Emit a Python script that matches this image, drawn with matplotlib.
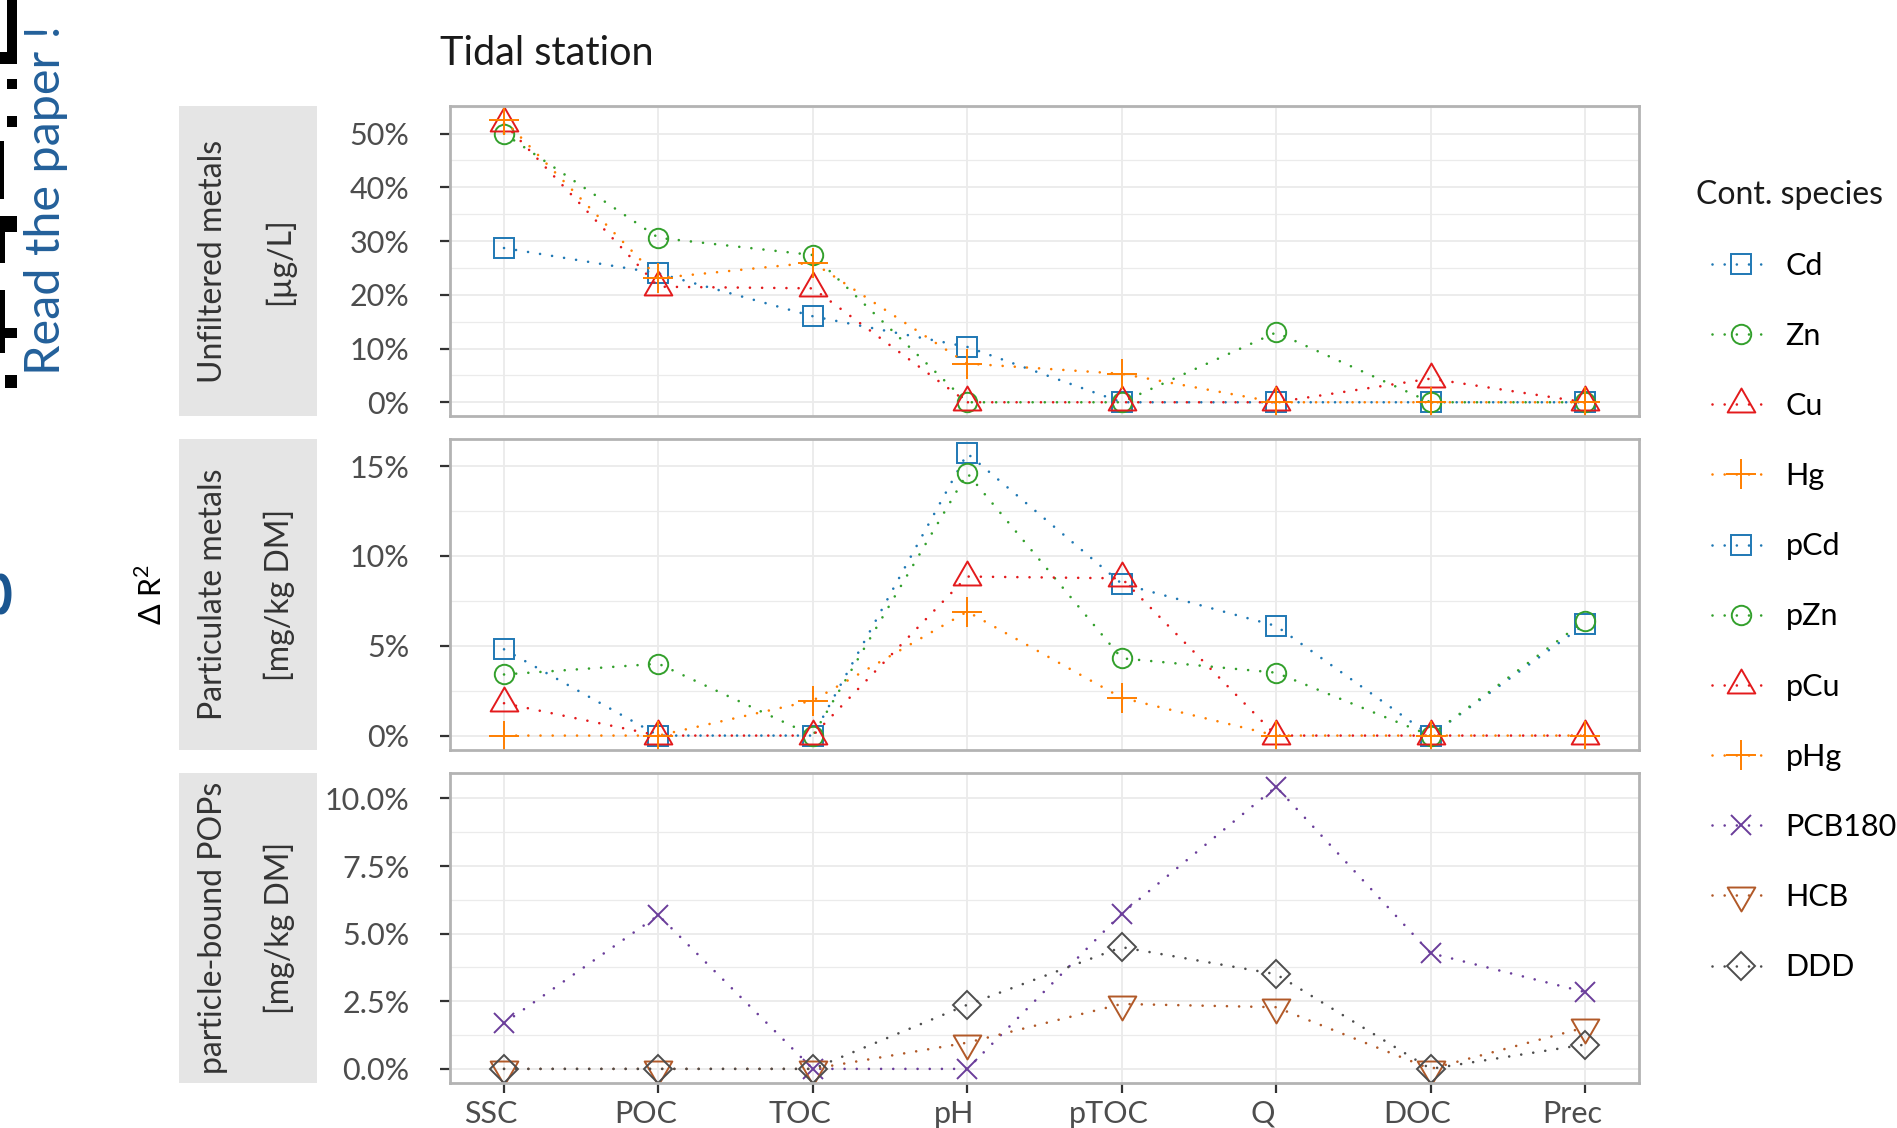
import numpy as np
import matplotlib
matplotlib.use('Agg')
import matplotlib.pyplot as plt
from matplotlib.path import Path
from matplotlib.lines import Line2D
from matplotlib.patches import Rectangle
from matplotlib.ticker import MultipleLocator, FuncFormatter
from matplotlib.transforms import ScaledTranslation

plt.rcParams['font.family'] = ['Lato', 'DejaVu Sans']
plt.rcParams['mathtext.fontset'] = 'custom'
plt.rcParams['mathtext.rm'] = 'Lato'

predictors = ['SSC', 'POC', 'TOC', 'pH', 'pTOC', 'Q', 'DOC', 'Prec']

# delta R2 (%) per predictor
# unfiltered metals [ug/L]
Cd = [28.7, 24.0, 16.0, 10.3, 0, 0, 0, 0]
Zn = [50.0, 30.6, 27.4, 0, 0, 13.0, 0, 0]
Cu = [51.9, 21.5, 21.2, 0, 0, 0, 4.4, 0]
Hg = [52.5, 23.1, 26.0, 7.2, 5.3, 0, 0, 0]
# particulate metals [mg/kg DM]
pCd = [4.8, 0, 0, 15.7, 8.45, 6.1, 0, 6.2]
pZn = [3.4, 4.0, 0, 14.6, 4.3, 3.5, 0, 6.4]
pCu = [1.8, 0, 0, 8.85, 8.75, 0, 0, 0]
pHg = [0, 0, 1.95, 6.9, 2.1, 0, 0, 0]
# particle-bound POPs [mg/kg DM]
PCB180 = [1.69, 5.68, 0, 0, 5.74, 10.43, 4.28, 2.84]
HCB = [0, 0, 0, 0.97, 2.4, 2.28, 0, 1.53]
DDD = [0, 0, 0, 2.37, 4.5, 3.5, 0, 0.9]

tri_up = Path([(0, 1), (-0.866, -0.5), (0.866, -0.5), (0, 1)], closed=True)
tri_dn = Path([(0, -1), (-0.866, 0.5), (0.866, 0.5), (0, -1)], closed=True)

# name: (color, marker, size)
style = {
    'Cd': ('#1F78B4', 's', 14), 'Zn': ('#33A02C', 'o', 14),
    'Cu': ('#E31A1C', tri_up, 23), 'Hg': ('#FF7F00', '+', 22),
    'pCd': ('#1F78B4', 's', 14), 'pZn': ('#33A02C', 'o', 14),
    'pCu': ('#E31A1C', tri_up, 23), 'pHg': ('#FF7F00', '+', 22),
    'PCB180': ('#6A3D9A', 'x', 14.5), 'HCB': ('#B15928', tri_dn, 23),
    'DDD': ('#4D4D4D', 'D', 14.5),
}

panels = [
    ('Unfiltered metals', '[µg/L]', {'Cd': Cd, 'Zn': Zn, 'Cu': Cu, 'Hg': Hg}, 10, '{:.0f}%'),
    ('Particulate metals', '[mg/kg DM]', {'pCd': pCd, 'pZn': pZn, 'pCu': pCu, 'pHg': pHg}, 5, '{:.0f}%'),
    ('particle-bound POPs', '[mg/kg DM]', {'PCB180': PCB180, 'HCB': HCB, 'DDD': DDD}, 2.5, '{:.1f}%'),
]

dots = (0, (0.01, 4.6))

fig, axes = plt.subplots(3, 1, figsize=(18.97, 11.28), dpi=100, sharex=True)
fig.subplots_adjust(left=0.2372, right=0.864, top=0.906, bottom=0.0399, hspace=0.074)

x = np.arange(len(predictors))
for ax, (lab1, lab2, series, step, fmt) in zip(axes, panels):
    allv = np.concatenate([np.asarray(v, float) for v in series.values()])
    lo, hi = allv.min(), allv.max()
    pad = 0.05 * (hi - lo)
    for name, vals in series.items():
        col, mk, ms = style[name]
        ax.plot(x, vals, color=col, lw=1.9, linestyle=dots, dash_capstyle='round',
                marker=mk, ms=ms, mfc='none', mec=col, mew=1.4)
    ax.set_ylim(lo - pad, hi + pad)
    ax.set_xlim(-0.35, len(predictors) - 0.65)
    ax.yaxis.set_major_locator(MultipleLocator(step))
    ax.yaxis.set_minor_locator(MultipleLocator(step / 2))
    ax.yaxis.set_major_formatter(FuncFormatter(lambda v, p, f=fmt: f.format(v)))
    ax.set_axisbelow(True)
    ax.grid(which='major', color='#EBEBEB', lw=1.3)
    ax.grid(which='minor', axis='y', color='#EBEBEB', lw=0.9)
    for sp in ax.spines.values():
        sp.set_color('#B3B3B3')
        sp.set_linewidth(2)
    ax.tick_params(axis='y', which='major', length=7, width=1.6, color='#333333',
                   labelsize=22, labelcolor='#4D4D4D', pad=22)
    ax.tick_params(axis='x', which='major', length=0)
    ax.tick_params(which='minor', length=0)
    # facet strip on the left
    ax.add_patch(Rectangle((-0.2279, 0), 0.116, 1, transform=ax.transAxes,
                           facecolor='#E5E5E5', edgecolor='none', clip_on=False))
    ax.text(-0.1990, 0.5, lab1, transform=ax.transAxes, rotation=90, ha='center',
            va='center', fontsize=23, color='#333333')
    ax.text(-0.1438, 0.5, lab2, transform=ax.transAxes, rotation=90, ha='center',
            va='center', fontsize=23, color='#333333')

axes[-1].set_xticks(x)
axes[-1].set_xticklabels(predictors)
axes[-1].tick_params(axis='x', length=7, width=1.6, color='#333333',
                     labelsize=22, labelcolor='#4D4D4D', pad=5)
shift = ScaledTranslation(-0.13, 0, fig.dpi_scale_trans)
for t in axes[-1].get_xticklabels():
    t.set_transform(t.get_transform() + shift)

fig.text(0.232, 0.9424, 'Tidal station', fontsize=28.5, color='#1A1A1A', va='baseline')
fig.text(0.0796, 0.4734, r'Δ R$^{2}$', rotation=90, fontsize=22, ha='center', va='center')

# legend
handles, labels = [], []
for name in ['Cd', 'Zn', 'Cu', 'Hg', 'pCd', 'pZn', 'pCu', 'pHg', 'PCB180', 'HCB', 'DDD']:
    col, mk, ms = style[name]
    handles.append(Line2D([], [], color=col, lw=1.9, linestyle=dots, dash_capstyle='round',
                          marker=mk, ms=ms, mfc='none', mec=col, mew=1.4))
    labels.append(name)
fig.legend(handles, labels, loc='upper left', bbox_to_anchor=(0.9025, 0.777),
           frameon=False, fontsize=22, handlelength=1.9, handletextpad=0.5,
           labelspacing=1.38, borderpad=0, borderaxespad=0)
fig.text(0.894, 0.827, 'Cont. species', fontsize=23, color='#1A1A1A', va='center')

# "read the paper" banner and QR code, partly cut at the left edge
fig.text(0.0240, 0.8227, 'Read the paper !', rotation=90, fontsize=35, color='#23609A',
         ha='center', va='center')
W, H = 1897, 1128
qr = [(7, 0, 10, 64), (0, 52, 17, 12), (7, 79, 10, 10), (7, 116, 10, 11), (0, 141, 4, 58),
      (0, 216, 17, 16), (0, 216, 5, 47), (0, 290, 5, 63), (5, 328, 12, 10), (5, 375, 12, 13)]
for (qx, qy, qw, qh) in qr:
    fig.patches.append(Rectangle((qx / W, 1 - (qy + qh) / H), qw / W, qh / H,
                                 transform=fig.transFigure, facecolor='black', edgecolor='none'))
# fragment of the logo at the left edge
t = np.linspace(-0.6 * np.pi, 0.6 * np.pi, 30)
fig.add_artist(Line2D((1 + 7 * np.cos(t)) / W, 1 - (594 + 17 * np.sin(t)) / H,
                      transform=fig.transFigure, color='#1B5690', lw=5, solid_capstyle='butt'))

fig.savefig('out.png', dpi=100)
